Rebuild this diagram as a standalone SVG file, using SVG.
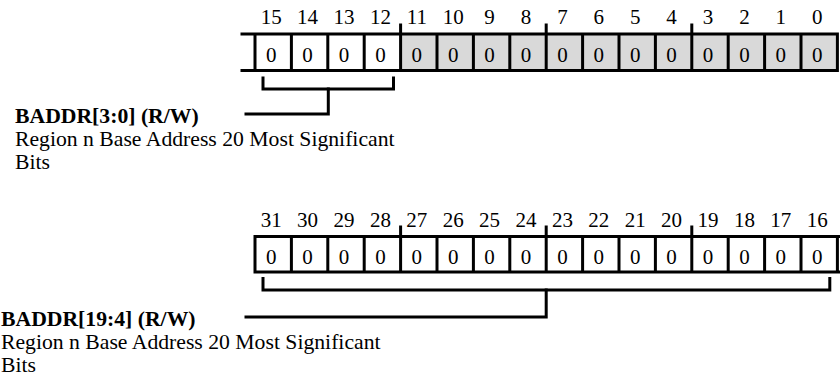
<svg xmlns="http://www.w3.org/2000/svg" width="840" height="379" viewBox="0 0 840 379">
<style>
text{font-family:"Liberation Serif","Times New Roman",serif;fill:#000}
.n{font-size:21px;text-anchor:middle}
.v{font-size:21px;text-anchor:middle}
.lb{font-size:21.7px;font-weight:bold}
.ds{font-size:21.7px}
.ln{stroke:#000;stroke-width:3;fill:none;stroke-linecap:square}
.br{stroke:#000;stroke-width:3;fill:none;stroke-linejoin:miter;stroke-linecap:square}
.g{fill:#d9d9d9}
</style>
<g id="reg-15-0">
<rect class="g" x="400.6" y="34" width="436.8" height="36.5"/>
<path class="ln" d="M242,34H837.4M242,70.5H837.4M255,34V70.5M291.4,34V70.5M327.8,34V70.5M364.2,34V70.5M400.6,25V70.5M437,34V70.5M473.4,34V70.5M509.8,34V70.5M546.2,25V70.5M582.6,34V70.5M619,34V70.5M655.4,34V70.5M691.8,25V70.5M728.2,34V70.5M764.6,34V70.5M801,34V70.5M837.4,34V70.5"/>
<g class="n">
<text x="271.2" y="24">15</text><text x="307.6" y="24">14</text><text x="344" y="24">13</text><text x="380.4" y="24">12</text>
<text x="416.8" y="24">11</text><text x="453.2" y="24">10</text><text x="489.6" y="24">9</text><text x="526" y="24">8</text>
<text x="562.4" y="24">7</text><text x="598.8" y="24">6</text><text x="635.2" y="24">5</text><text x="671.6" y="24">4</text>
<text x="708" y="24">3</text><text x="744.4" y="24">2</text><text x="780.8" y="24">1</text><text x="817.2" y="24">0</text>
</g>
<g class="v">
<text x="271.2" y="62">0</text><text x="307.6" y="62">0</text><text x="344" y="62">0</text><text x="380.4" y="62">0</text>
<text x="416.8" y="62">0</text><text x="453.2" y="62">0</text><text x="489.6" y="62">0</text><text x="526" y="62">0</text>
<text x="562.4" y="62">0</text><text x="598.8" y="62">0</text><text x="635.2" y="62">0</text><text x="671.6" y="62">0</text>
<text x="708" y="62">0</text><text x="744.4" y="62">0</text><text x="780.8" y="62">0</text><text x="817.2" y="62">0</text>
</g>
</g>
<g id="reg-31-16">
<path class="ln" d="M255,236.5H850M255,272H850M255,236.5V272M291.4,236.5V272M327.8,236.5V272M364.2,236.5V272M400.6,227V272M437,236.5V272M473.4,236.5V272M509.8,236.5V272M546.2,227V272M582.6,236.5V272M619,236.5V272M655.4,236.5V272M691.8,227V272M728.2,236.5V272M764.6,236.5V272M801,236.5V272M837.4,236.5V272"/>
<g class="n">
<text x="271.2" y="226.5">31</text><text x="307.6" y="226.5">30</text><text x="344" y="226.5">29</text><text x="380.4" y="226.5">28</text>
<text x="416.8" y="226.5">27</text><text x="453.2" y="226.5">26</text><text x="489.6" y="226.5">25</text><text x="526" y="226.5">24</text>
<text x="562.4" y="226.5">23</text><text x="598.8" y="226.5">22</text><text x="635.2" y="226.5">21</text><text x="671.6" y="226.5">20</text>
<text x="708" y="226.5">19</text><text x="744.4" y="226.5">18</text><text x="780.8" y="226.5">17</text><text x="817.2" y="226.5">16</text>
</g>
<g class="v">
<text x="271.2" y="264">0</text><text x="307.6" y="264">0</text><text x="344" y="264">0</text><text x="380.4" y="264">0</text>
<text x="416.8" y="264">0</text><text x="453.2" y="264">0</text><text x="489.6" y="264">0</text><text x="526" y="264">0</text>
<text x="562.4" y="264">0</text><text x="598.8" y="264">0</text><text x="635.2" y="264">0</text><text x="671.6" y="264">0</text>
<text x="708" y="264">0</text><text x="744.4" y="264">0</text><text x="780.8" y="264">0</text><text x="817.2" y="264">0</text>
</g>
</g>
<g id="label-baddr-3-0">
<text class="lb" x="15" y="123">BADDR[3:0] (R/W)</text>
<text class="ds" x="15" y="146">Region n Base Address 20 Most Significant</text>
<text class="ds" x="15" y="169">Bits</text>
</g>
<g id="label-baddr-19-4">
<text class="lb" x="1" y="326">BADDR[19:4] (R/W)</text>
<text class="ds" x="1" y="349">Region n Base Address 20 Most Significant</text>
<text class="ds" x="1" y="372">Bits</text>
</g>
<g id="connectors">
<path class="br" d="M263,78V89H393.5V78"/>
<path class="br" d="M328.3,89V114H246"/>
<path class="br" d="M263,278.5V290H829.8V278.5"/>
<path class="br" d="M546.2,290V317H246"/>
</g>
</svg>
